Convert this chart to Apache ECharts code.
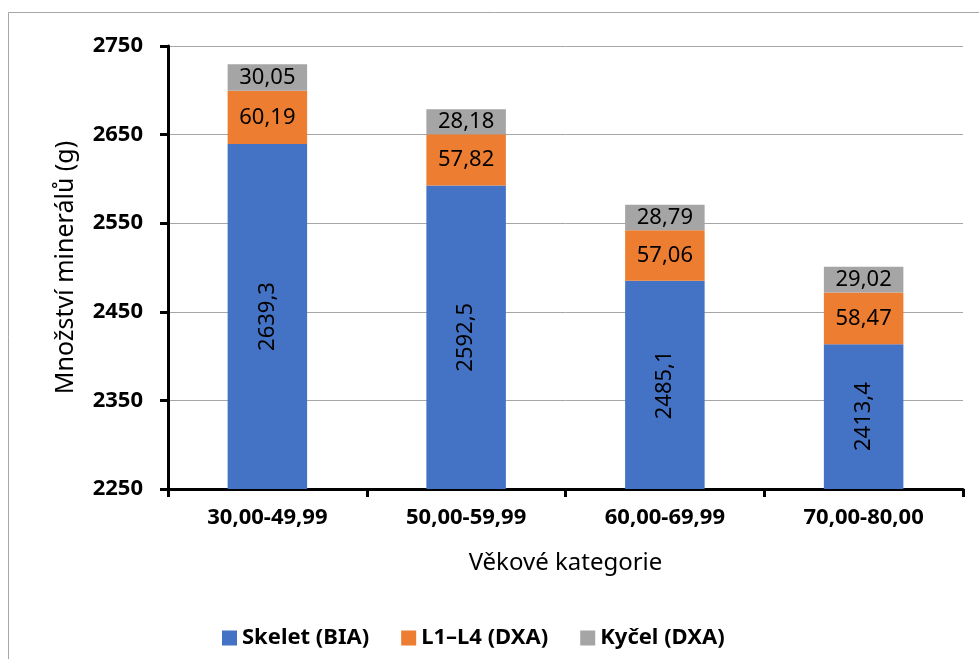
<!DOCTYPE html>
<html>
<head>
<meta charset="utf-8">
<script src="https://cdn.jsdelivr.net/npm/echarts@6/dist/echarts.min.js"></script>
<style>
  html, body { margin: 0; padding: 0; background: #fff; }
  #chart { width: 979px; height: 659px; }
</style>
</head>
<body>
<div id="chart"></div>
<script>
// Age groups and mineral mass per measurement (g)
const categories = ['30,00-49,99', '50,00-59,99', '60,00-69,99', '70,00-80,00'];
const skeletBIA = [2639.3, 2592.5, 2485.1, 2413.4];
const l1l4DXA = [60.19, 57.82, 57.06, 58.47];
const kycelDXA = [30.05, 28.18, 28.79, 29.02];
const seriesNames = ['Skelet (BIA)', 'L1\u2013L4 (DXA)', 'Kyčel (DXA)'];
const yTicks = [2250, 2350, 2450, 2550, 2650, 2750];

const FONT = '"Noto Sans", "Open Sans", sans-serif';
const fmt = v => String(v).replace('.', ',');

const chart = echarts.init(document.getElementById('chart'), null, { renderer: 'canvas' });

function segment(name, data, color, rotate) {
  return {
    name: name,
    type: 'bar',
    stack: 'total',
    data: data,
    barWidth: '40%',
    itemStyle: { color: color },
    label: {
      show: true,
      position: 'inside',
      rotate: rotate,
      color: '#000',
      fontFamily: FONT,
      fontSize: 22,
      formatter: p => fmt(p.value)
    },
    emphasis: { disabled: true }
  };
}

chart.setOption({
  animation: false,
  backgroundColor: '#fff',
  graphic: [{
    type: 'rect',
    shape: { x: 8.5, y: 12.5, width: 1000, height: 700 },
    style: { fill: 'none', stroke: '#a6a6a6', lineWidth: 1 },
    silent: true
  }],
  grid: { left: 168, right: 16, top: 46, bottom: 170, containLabel: false },
  legend: {
    left: 217,
    top: 622,
    itemWidth: 15,
    itemHeight: 15,
    itemGap: 32,
    icon: 'rect',
    textStyle: { fontFamily: FONT, fontSize: 22, fontWeight: 'bold', color: '#000' },
    data: seriesNames
  },
  xAxis: {
    type: 'category',
    data: categories,
    name: 'Věkové kategorie',
    nameLocation: 'middle',
    nameGap: 62,
    nameTextStyle: { fontFamily: FONT, fontSize: 24, color: '#000' },
    axisLine: { lineStyle: { color: '#000', width: 3 } },
    axisTick: { show: true, length: 8, lineStyle: { color: '#000', width: 3 } },
    axisLabel: { fontFamily: FONT, fontSize: 22, fontWeight: 'bold', color: '#000', margin: 18 }
  },
  yAxis: {
    type: 'value',
    min: yTicks[0],
    max: yTicks[yTicks.length - 1],
    interval: 100,
    name: 'Množství minerálů (g)',
    nameLocation: 'middle',
    nameGap: 90,
    nameTextStyle: { fontFamily: FONT, fontSize: 25, color: '#000' },
    axisLine: { show: true, lineStyle: { color: '#000', width: 3 } },
    axisTick: { show: true, length: 8, lineStyle: { color: '#000', width: 3 } },
    axisLabel: {
      fontFamily: FONT, fontSize: 22, fontWeight: 'bold', color: '#000', margin: 25,
      formatter: v => String(v)
    },
    splitLine: { show: true, lineStyle: { color: '#a6a6a6', width: 1 } }
  },
  series: [
    segment(seriesNames[0], skeletBIA, '#4472C4', 90),
    segment(seriesNames[1], l1l4DXA, '#ED7D31', 0),
    segment(seriesNames[2], kycelDXA, '#A5A5A5', 0)
  ]
});
</script>
</body>
</html>
